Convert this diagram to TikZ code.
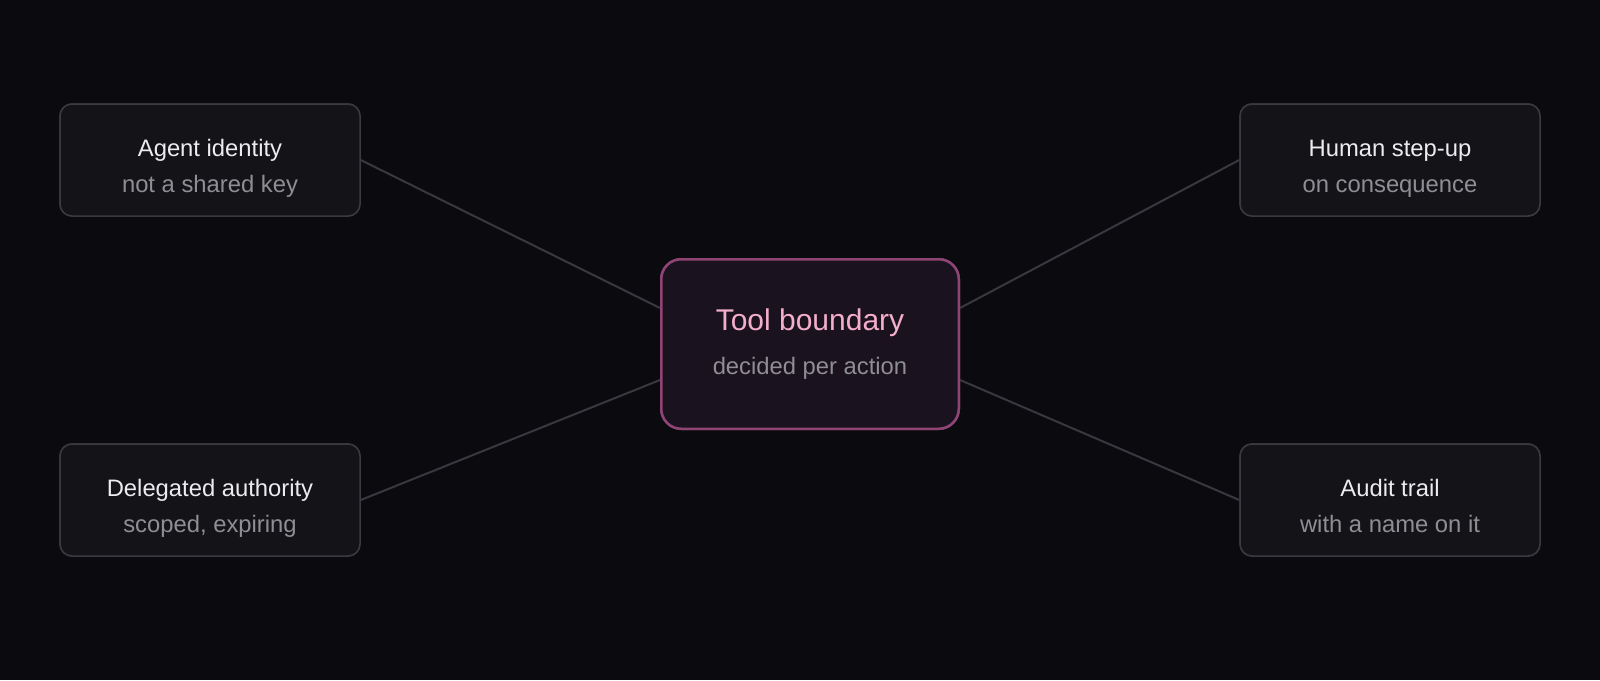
\documentclass[tikz,border=0pt]{standalone}
\usepackage{fontspec}
\setmainfont{Liberation Sans}
\definecolor{bg}{HTML}{0B0B0F}
\definecolor{boxfill}{HTML}{141418}
\definecolor{boxline}{HTML}{3A3A40}
\definecolor{cfill}{HTML}{1A121E}
\definecolor{cline}{HTML}{8E4474}
\definecolor{ttext}{HTML}{ECECF0}
\definecolor{stext}{HTML}{8E8E94}
\definecolor{ptext}{HTML}{F2AECB}
\definecolor{edge}{HTML}{38383E}
\tikzset{
  outerbox/.style={draw=boxline, fill=boxfill, line width=0.75pt, rounded corners=6pt,
    minimum width=150pt, minimum height=56pt, inner sep=0pt},
  centerbox/.style={draw=cline, fill=cfill, line width=1.25pt, rounded corners=10pt,
    minimum width=148.75pt, minimum height=84.75pt, inner sep=0pt},
  ttl/.style={text=ttext, font=\fontsize{11.9}{14}\selectfont, anchor=base, inner sep=0pt},
  sub/.style={text=stext, font=\fontsize{11.9}{14}\selectfont, anchor=base, inner sep=0pt},
  ctl/.style={text=ptext, font=\fontsize{15}{18}\selectfont, anchor=base, inner sep=0pt},
  conn/.style={draw=edge, line width=1pt},
}
\begin{document}
\begin{tikzpicture}[x=0.5pt,y=-0.5pt]
\fill[bg] (0,0) rectangle (1600,680);
\useasboundingbox (0,0) rectangle (1600,680);
% boxes
\node[outerbox] (tl) at (210,160) {};
\node[outerbox] (bl) at (210,500) {};
\node[outerbox] (tr) at (1390,160) {};
\node[outerbox] (br) at (1390,500) {};
\node[centerbox] (c) at (810,344) {};
% connection points
\coordinate (cl1) at (660,308);
\coordinate (cl2) at (660,380);
\coordinate (cr1) at (960,308);
\coordinate (cr2) at (960,380);
\begin{scope}[on background layer/.try]
\end{scope}
\draw[conn] (tl.east) -- (cl1);
\draw[conn] (bl.east) -- (cl2);
\draw[conn] (tr.west) -- (cr1);
\draw[conn] (br.west) -- (cr2);
% redraw boxes on top of connectors
\node[outerbox] at (210,160) {};
\node[outerbox] at (210,500) {};
\node[outerbox] at (1390,160) {};
\node[outerbox] at (1390,500) {};
\node[centerbox] at (810,344) {};
% texts
\node[ttl] (tlt) at (210,156) {Agent identity};
\node[sub] (tls) at (210,192) {not a shared key};
\node[ttl] (blt) at (210,496) {Delegated authority};
\node[sub] (bls) at (210,532) {scoped, expiring};
\node[ttl] (trt) at (1390,156) {Human step-up};
\node[sub] (trs) at (1390,192) {on consequence};
\node[ttl] (brt) at (1390,496) {Audit trail};
\node[sub] (brs) at (1390,532) {with a name on it};
\node[ctl] (ct) at (810,330) {Tool boundary};
\node[sub] (cs) at (810,374) {decided per action};
\end{tikzpicture}
\end{document}
